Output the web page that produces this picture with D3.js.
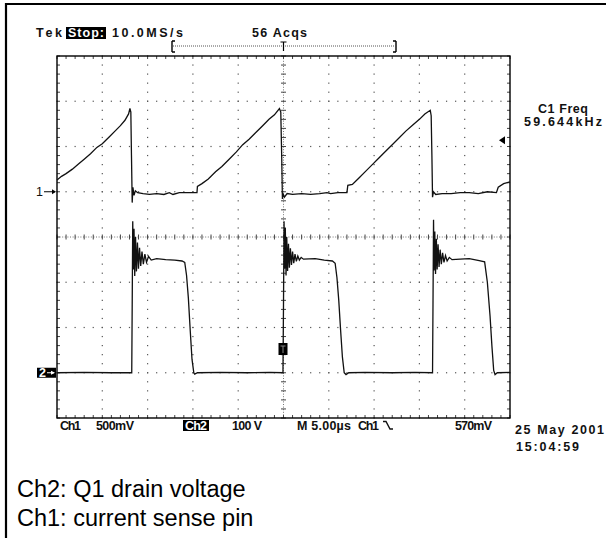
<!DOCTYPE html>
<html>
<head>
<meta charset="utf-8">
<script src="https://cdn.jsdelivr.net/npm/d3@7"></script>
<style>
  body { margin: 0; background: #fff; }
  svg { display: block; }
  .scope { font-family: "Liberation Sans", Arial, sans-serif; font-weight: bold; font-size: 12.5px; fill: #111; }
  .caption { font-family: "Liberation Sans", Arial, sans-serif; font-size: 23.5px; fill: #000; }
</style>
</head>
<body>
<svg id="chart" width="606" height="538"></svg>
<script>
// time in microseconds (5 us/div, trigger at centre)
var timeDomain = [-25, 25];
var divisionsY = [-4, 4];

// Ch1: current sense pin, volts (500mV/div, ground 1 div above centre)
var ch1Time = [-25.0, -24.5, -24.0, -23.3, -22.6, -22.0, -21.3, -20.6, -20.0, -19.3, -18.6, -18.0, -17.5, -17.1, -16.95,
  -16.85, -16.78, -16.70, -16.62, -16.50, -16.35, -16.1, -15.5, -14.8, -14.0, -13.2, -12.6, -12.2, -11.5, -10.8, -10.0, -9.55,
  -9.5, -9.0, -8.3, -7.5, -6.8, -6.0, -5.2, -4.5, -3.8, -3.0, -2.3, -1.6, -1.0, -0.45,
  -0.3, -0.2, -0.12, -0.05, 0.1, 0.4, 1.0, 2.0, 3.0, 4.0, 4.8, 5.2, 6.0, 7.0,
  7.1, 7.6, 8.3, 9.0, 9.8, 10.5, 11.3, 12.0, 12.8, 13.5, 14.3, 15.0, 15.6, 16.2,
  16.3, 16.38, 16.45, 16.55, 16.8, 17.5, 18.5, 19.5, 20.5, 21.5, 22.5, 23.5, 23.7, 24.3, 25.0];
var ch1Volts = [0.13, 0.17, 0.20, 0.25, 0.31, 0.36, 0.42, 0.49, 0.53, 0.60, 0.67, 0.73, 0.79, 0.86, 0.92,
  0.88, 0.40, -0.12, 0.05, -0.04, 0.01, -0.01, -0.02, -0.03, -0.02, -0.03, -0.01, -0.03, -0.01, -0.01, -0.01, -0.01,
  0.06, 0.09, 0.14, 0.22, 0.28, 0.36, 0.44, 0.52, 0.58, 0.66, 0.73, 0.80, 0.85, 0.92,
  0.88, 0.40, -0.08, -0.02, -0.06, -0.02, -0.03, -0.02, -0.03, -0.02, -0.01, -0.02, -0.01, -0.01,
  0.07, 0.08, 0.15, 0.22, 0.30, 0.37, 0.45, 0.52, 0.60, 0.67, 0.74, 0.80, 0.86, 0.90,
  0.84, 0.40, -0.06, 0.00, -0.03, -0.02, -0.02, -0.01, -0.01, -0.02, 0.00, -0.01, 0.05, 0.09, 0.11];

// Ch2: Q1 drain voltage, volts (100V/div, ground 3 div below centre)
var ch2Time = [-25.0, -22, -19, -16.75,
  -16.70, -16.64, -16.58, -16.50, -16.42, -16.33, -16.23, -16.12, -16.01, -15.89, -15.76, -15.62, -15.47, -15.30, -15.12, -14.9, -14.6,
  -14.0, -13.0, -12.0, -11.2, -10.9, -10.7, -10.5, -10.3, -10.1, -9.9, -9.8, -9.5,
  -7, -4, -1.5, -0.06,
  0.0, 0.06, 0.12, 0.2, 0.28, 0.36, 0.45, 0.55, 0.65, 0.76, 0.88, 1.0, 1.13, 1.27, 1.42, 1.58, 1.75, 1.95, 2.2,
  3.5, 4.5, 5.4, 5.7, 5.9, 6.1, 6.3, 6.5, 6.7, 6.9, 7.2, 9, 12, 14.5, 16.45,
  16.5, 16.56, 16.62, 16.7, 16.78, 16.87, 16.96, 17.06, 17.17, 17.29, 17.42, 17.56, 17.71, 17.88, 18.06, 18.3, 18.6,
  19.5, 20.5, 21.6, 22.2, 22.5, 22.8, 23.0, 23.2, 23.35, 23.6, 25];
var ch2Volts = [0, 1, 0, 0,
  150, 335, 228, 318, 214, 300, 224, 288, 230, 276, 236, 268, 240, 262, 244, 257, 249,
  252, 250, 249, 247, 244, 215, 165, 95, 30, 0, -3, 0,
  1, 0, 1, 0,
  150, 335, 230, 320, 215, 300, 225, 285, 232, 275, 238, 268, 242, 262, 246, 258, 249, 255, 251,
  252, 249, 247, 242, 210, 160, 95, 35, 0, -4, 0, 1, 0, 1, 0,
  150, 338, 226, 312, 218, 296, 228, 284, 234, 272, 240, 265, 244, 259, 247, 255, 250,
  251, 252, 248, 245, 200, 125, 60, 5, -4, 0, 1];

var ch1Scale = 0.5, ch1Pos = 1;
var ch2Scale = 100, ch2Pos = -3;
var trigLevel = 0.57;

var bottomLabels = ["Ch1", "500mV", "Ch2", "100 V", "M 5.00\u00b5s", "Ch1", "570mV"];
var captionLines = ["Ch2: Q1 drain voltage", "Ch1: current sense pin"];

var svg = d3.select('#chart');
svg.append('rect').attr('width', 606).attr('height', 538).attr('fill', '#fff');

// outer frame (left + top only)
svg.append('path').attr('d', 'M6,538V4H606').attr('fill', 'none').attr('stroke', '#000').attr('stroke-width', 2.2);

var x = d3.scaleLinear().domain(timeDomain).range([57, 510]);
var yDiv = d3.scaleLinear().domain(divisionsY).range([418, 56]);
var y1 = function(v){ return yDiv(ch1Pos + v / ch1Scale); };
var y2 = function(v){ return yDiv(ch2Pos + v / ch2Scale); };

var grid = svg.append('g');
var majorT = d3.range(-20, 21, 5).filter(function(t){ return t !== 0; });
var minorT = d3.range(-25, 25.01, 1);
var majorD = d3.range(-3, 4, 1).filter(function(d){ return d !== 0; });
var minorD = d3.range(-4, 4.01, 0.2);

// dotted graticule
majorT.forEach(function(t){
  minorD.forEach(function(d){
    grid.append('rect').attr('x', x(t) - 0.6).attr('y', yDiv(d) - 0.6).attr('width', 1.2).attr('height', 1.2).attr('fill', '#555');
  });
});
majorD.forEach(function(d){
  minorT.forEach(function(t){
    grid.append('rect').attr('x', x(t) - 0.6).attr('y', yDiv(d) - 0.6).attr('width', 1.2).attr('height', 1.2).attr('fill', '#555');
  });
});

// centre cross
grid.append('line').attr('x1', x(0)).attr('x2', x(0)).attr('y1', yDiv(-4)).attr('y2', yDiv(4))
  .attr('stroke', '#777').attr('stroke-width', 1).attr('stroke-dasharray', '1,1.6');
grid.append('line').attr('x1', x(-25)).attr('x2', x(25)).attr('y1', yDiv(0)).attr('y2', yDiv(0))
  .attr('stroke', '#777').attr('stroke-width', 1).attr('stroke-dasharray', '1,1.6');
minorD.forEach(function(d){
  grid.append('line').attr('x1', x(0) - 2.5).attr('x2', x(0) + 2.5).attr('y1', yDiv(d)).attr('y2', yDiv(d)).attr('stroke', '#444').attr('stroke-width', 1);
  grid.append('line').attr('x1', x(-25)).attr('x2', x(-25) + 3).attr('y1', yDiv(d)).attr('y2', yDiv(d)).attr('stroke', '#444').attr('stroke-width', 1);
  grid.append('line').attr('x1', x(25) - 3).attr('x2', x(25)).attr('y1', yDiv(d)).attr('y2', yDiv(d)).attr('stroke', '#444').attr('stroke-width', 1);
});
minorT.forEach(function(t){
  grid.append('line').attr('x1', x(t)).attr('x2', x(t)).attr('y1', yDiv(0) - 2.5).attr('y2', yDiv(0) + 2.5).attr('stroke', '#444').attr('stroke-width', 1);
  grid.append('line').attr('x1', x(t)).attr('x2', x(t)).attr('y1', yDiv(4)).attr('y2', yDiv(4) + 3).attr('stroke', '#444').attr('stroke-width', 1);
  grid.append('line').attr('x1', x(t)).attr('x2', x(t)).attr('y1', yDiv(-4) - 3).attr('y2', yDiv(-4)).attr('stroke', '#444').attr('stroke-width', 1);
});

svg.append('rect').attr('x', x(-25)).attr('y', yDiv(4)).attr('width', x(25) - x(-25)).attr('height', yDiv(-4) - yDiv(4))
  .attr('fill', 'none').attr('stroke', '#000').attr('stroke-width', 1.4);

// traces
var ch1 = ch1Time.map(function(t, i){ return [t, ch1Volts[i]]; });
var ch2 = ch2Time.map(function(t, i){ return [t, ch2Volts[i]]; });

svg.append('path').datum(ch1)
  .attr('d', d3.line().x(function(d){ return x(d[0]); }).y(function(d){ return y1(d[1]); }))
  .attr('fill', 'none').attr('stroke', '#111').attr('stroke-width', 1.3);
svg.append('path').datum(ch2)
  .attr('d', d3.line().x(function(d){ return x(d[0]); }).y(function(d){ return y2(d[1]); }))
  .attr('fill', 'none').attr('stroke', '#111').attr('stroke-width', 1.3);

// channel ground markers
svg.append('text').attr('class', 'scope').attr('x', 36).attr('y', y1(0) + 4.5).style('font-weight', 'normal').text('1');
svg.append('path').attr('d', 'M44,' + y1(0) + 'H55').attr('stroke', '#000').attr('stroke-width', 1);
svg.append('path').attr('d', 'M52,' + (y1(0) - 2.5) + 'L56,' + y1(0) + 'L52,' + (y1(0) + 2.5) + 'Z').attr('fill', '#000');

svg.append('rect').attr('x', 37).attr('y', y2(0) - 5).attr('width', 19).attr('height', 10).attr('fill', '#000');
svg.append('text').attr('class', 'scope').attr('x', 39).attr('y', y2(0) + 4.5).style('fill', '#fff').text('2');
svg.append('path').attr('d', 'M47,' + y2(0) + 'H54').attr('stroke', '#fff').attr('stroke-width', 1);
svg.append('path').attr('d', 'M51,' + (y2(0) - 2) + 'L55,' + y2(0) + 'L51,' + (y2(0) + 2) + 'Z').attr('fill', '#fff');

// trigger level arrow (right) and trigger marker
svg.append('path').attr('d', 'M499,' + y1(trigLevel) + 'L505,' + (y1(trigLevel) - 4) + 'L505,' + (y1(trigLevel) + 4) + 'Z').attr('fill', '#000');
svg.append('rect').attr('x', x(0) - 5).attr('y', 343).attr('width', 9).attr('height', 12).attr('fill', '#000');
svg.append('path').attr('d', 'M' + (x(0) - 3) + ',346H' + (x(0) + 2) + 'M' + (x(0) - 0.5) + ',346V353').attr('stroke', '#888').attr('stroke-width', 1);

// header
svg.append('text').attr('class', 'scope').attr('x', 36).attr('y', 37).attr('textLength', 26).text('Tek');
svg.append('rect').attr('x', 66).attr('y', 27).attr('width', 40).attr('height', 12).attr('fill', '#000');
svg.append('text').attr('class', 'scope').attr('x', 68).attr('y', 37).attr('textLength', 36).style('fill', '#fff').text('Stop:');
svg.append('text').attr('class', 'scope').attr('x', 112).attr('y', 37).attr('textLength', 71).text('10.0MS/s');
svg.append('text').attr('class', 'scope').attr('x', 252).attr('y', 37).attr('textLength', 55).text('56 Acqs');

// record bracket
svg.append('path').attr('d', 'M172,41V52M172,41H175M172,52H175M396,41V52M396,41H393M396,52H393').attr('fill', 'none').attr('stroke', '#000').attr('stroke-width', 1.4);
svg.append('line').attr('x1', 173).attr('x2', 395).attr('y1', 46).attr('y2', 46).attr('stroke', '#555').attr('stroke-width', 1).attr('stroke-dasharray', '1,1');
svg.append('path').attr('d', 'M' + (x(0) - 3) + ',42H' + (x(0) + 3) + 'M' + x(0) + ',42V51').attr('stroke', '#000').attr('stroke-width', 1.2);

// measurement readout
svg.append('text').attr('class', 'scope').attr('x', 563).attr('y', 113).attr('text-anchor', 'middle').attr('textLength', 50).text('C1 Freq');
svg.append('text').attr('class', 'scope').attr('x', 563).attr('y', 126).attr('text-anchor', 'middle').attr('textLength', 78).text('59.644kHz');

// bottom status line
var labelX = [60, 96, 185, 232, 297, 358, 455];
var labelW = [21, 38, 22, 30, 54, 21, 37];
bottomLabels.forEach(function(s, i){
  if (i === 2) {
    svg.append('rect').attr('x', labelX[i] - 2).attr('y', 420).attr('width', labelW[i] + 4).attr('height', 11).attr('fill', '#000');
  }
  svg.append('text').attr('class', 'scope').attr('x', labelX[i]).attr('y', 430)
    .style('fill', i === 2 ? '#fff' : '#111')
    .attr('textLength', labelW[i]).text(s);
});
// falling-edge trigger slope symbol
svg.append('path').attr('d', 'M383,421.5H386L390,429H393').attr('fill', 'none').attr('stroke', '#111').attr('stroke-width', 1.4);
svg.append('text').attr('class', 'scope').attr('x', 515).attr('y', 434).attr('textLength', 89).text('25 May 2001');
svg.append('text').attr('class', 'scope').attr('x', 516).attr('y', 451).attr('textLength', 63).text('15:04:59');

// caption
captionLines.forEach(function(s, i){
  svg.append('text').attr('class', 'caption').attr('x', 17).attr('y', 497 + i * 29).text(s);
});
</script>
</body>
</html>
